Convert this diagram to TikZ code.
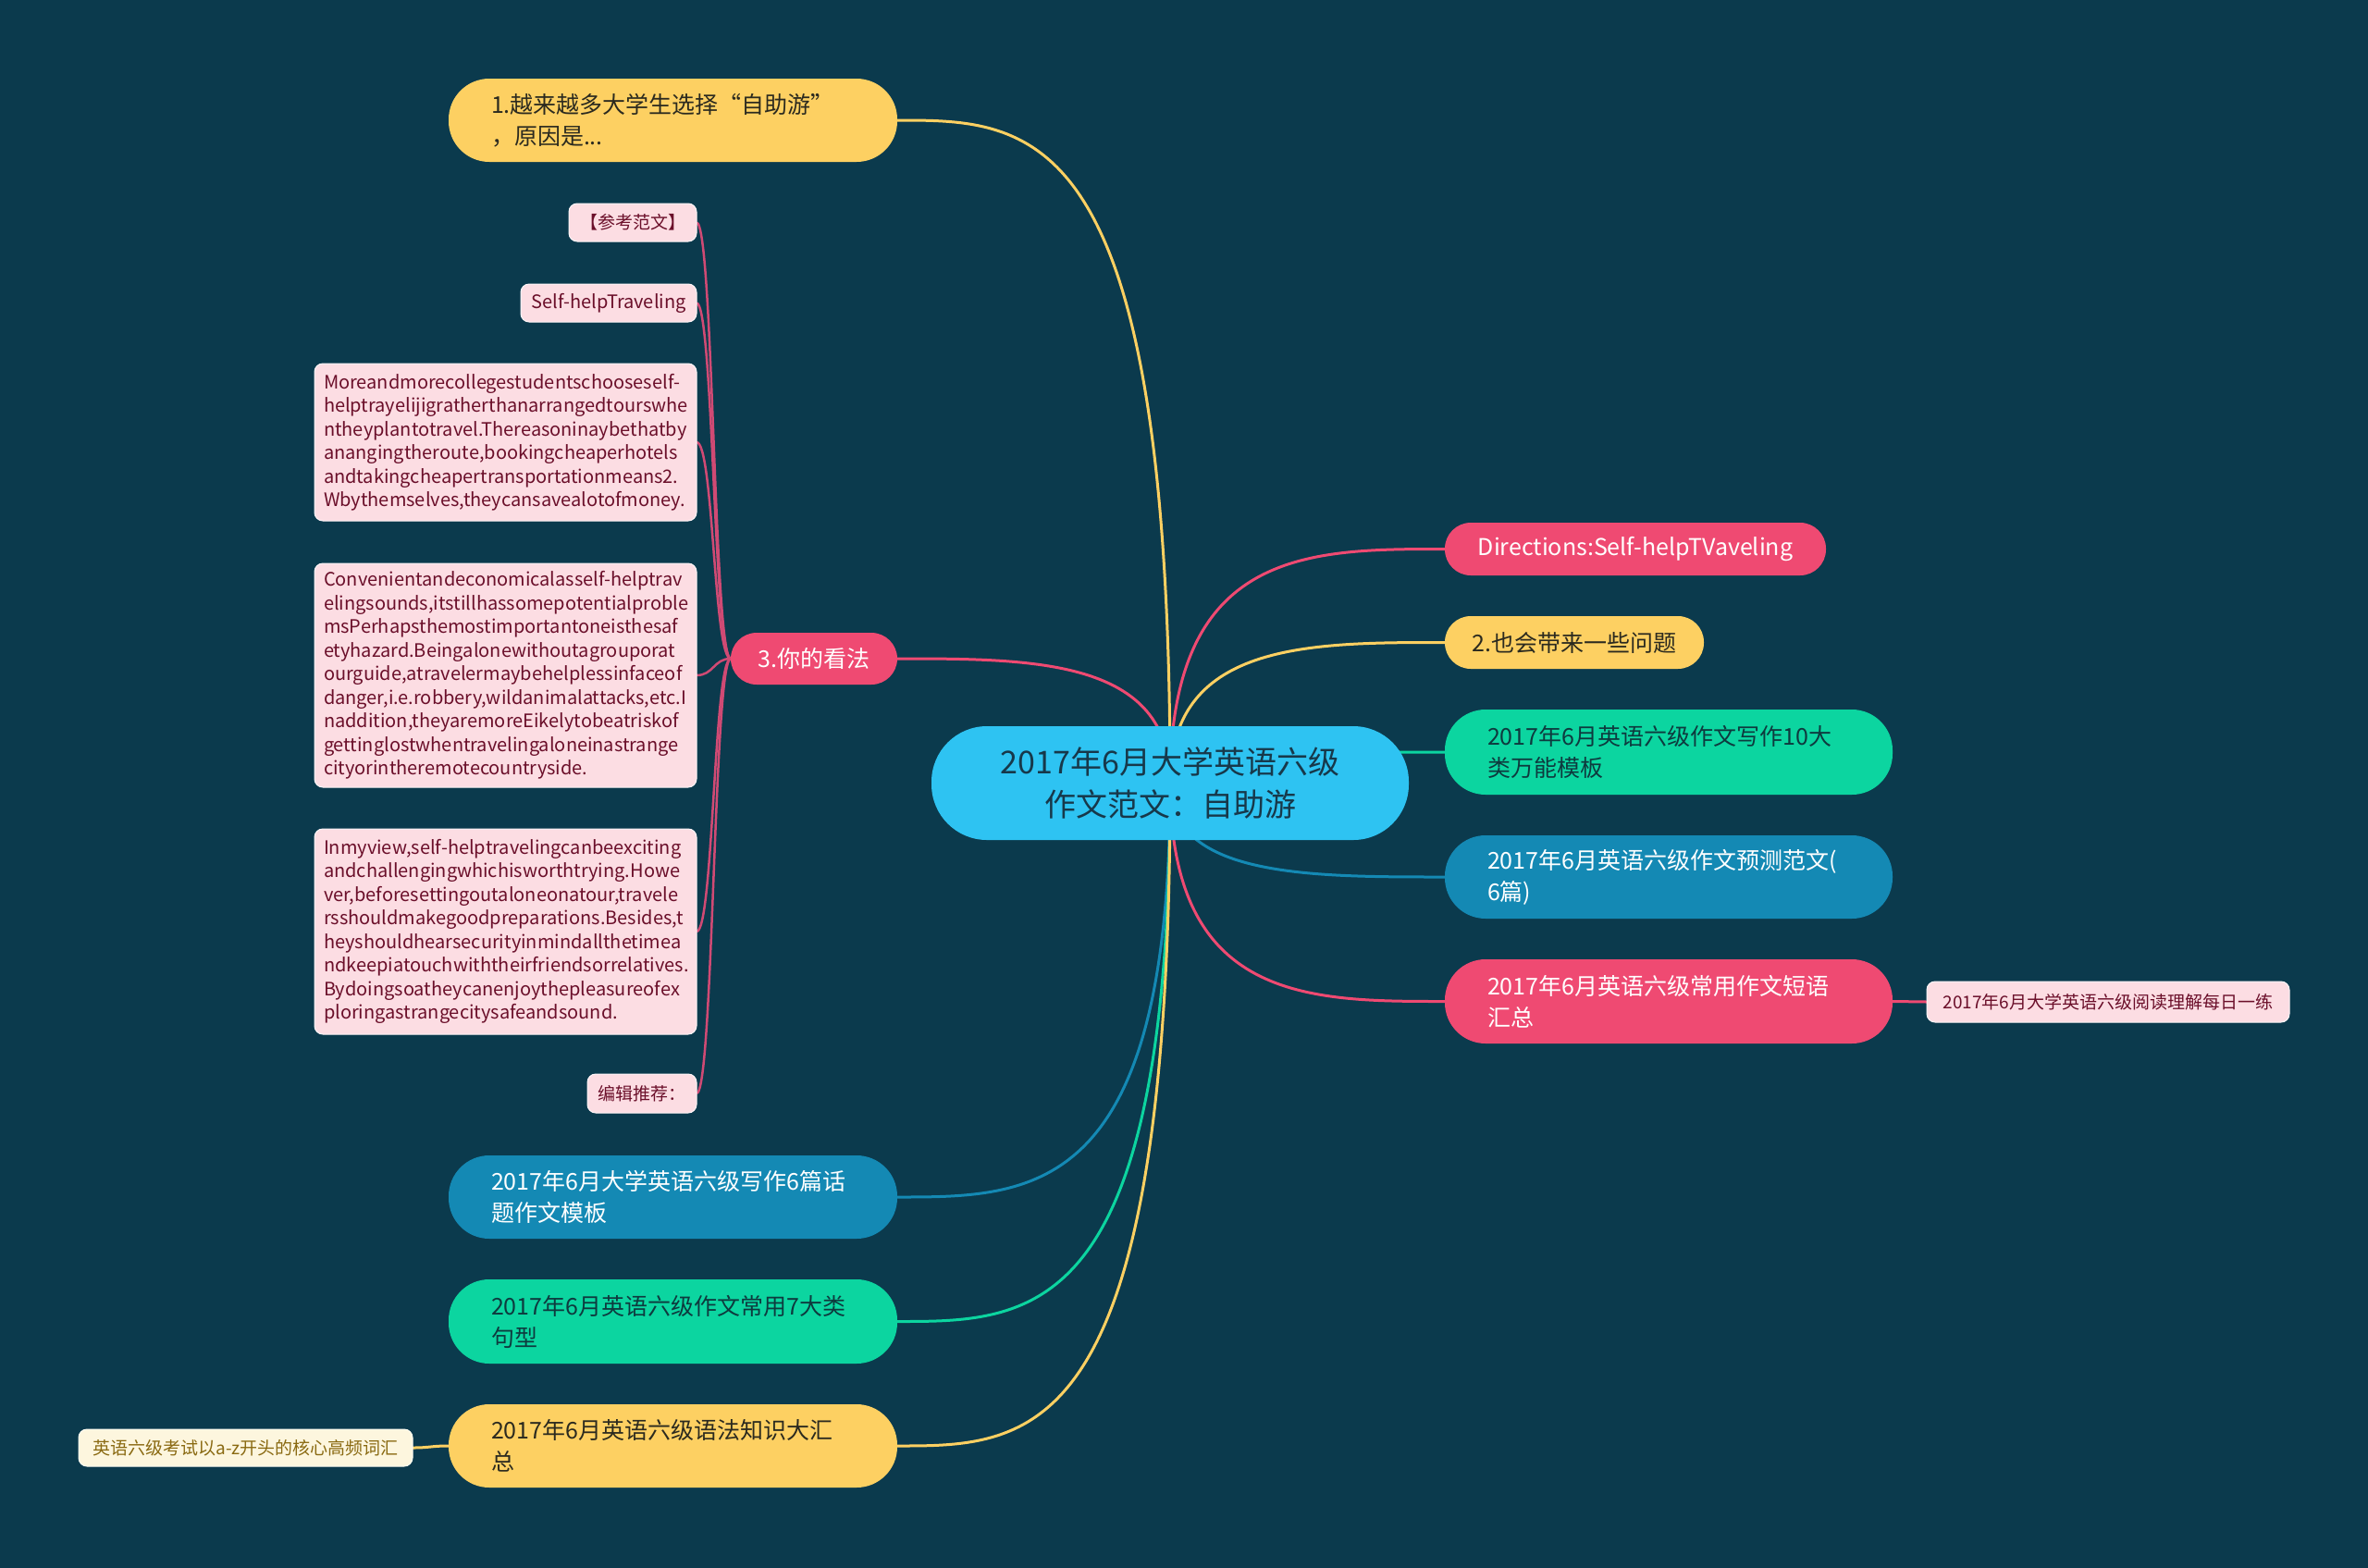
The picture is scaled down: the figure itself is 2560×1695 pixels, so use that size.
\documentclass[tikz,border=0pt]{standalone}
\usepackage{fontspec}
\setmainfont{Noto Sans CJK SC}
\usetikzlibrary{calc}
\pgfdeclarelayer{bg}
\pgfsetlayers{bg,main}
\definecolor{bgc}{HTML}{0B3A4D}
\definecolor{cyel}{HTML}{FDD062}
\definecolor{tyel}{HTML}{2B2A1F}
\definecolor{cpink}{HTML}{EF4A72}
\definecolor{cblue}{HTML}{1489B4}
\definecolor{cgreen}{HTML}{0CD5A0}
\definecolor{tgreen}{HTML}{0E3A3E}
\definecolor{ccenter}{HTML}{2EC3F2}
\definecolor{tcenter}{HTML}{17384A}
\definecolor{clight}{HTML}{FCDDE3}
\definecolor{tlight}{HTML}{6B0F2A}
\definecolor{ccream}{HTML}{FDF6DE}
\definecolor{tcream}{HTML}{8A6A12}
\definecolor{csub}{HTML}{D04A74}
\newcommand{\mmbranch}[3]{\draw[#1] (#2) .. controls (#2 |- #3) and ($(#3)!0.5!(#2 |- #3)$) .. (#3);}
\newcommand{\mmsub}[3]{\draw[#1] (#2) .. controls ($(#2)!0.5!(#3 |- #2)$) and ($(#3)!0.5!(#2 |- #3)$) .. (#3);}
\begin{document}
\begin{tikzpicture}[x=1pt,y=-1pt,
  base/.style={inner sep=0pt,outer sep=0pt},
  pill/.style={base,rounded corners=#1},
  fmain/.style={font=\fontsize{25pt}{34pt}\selectfont},
  fsmall/.style={font=\fontsize{19pt}{25.5pt}\selectfont},
  flat/.style={font=\fontsize{20pt}{25.5pt}\selectfont},
  yel/.style={fill=cyel,text=tyel},
  pnk/.style={fill=cpink,text=white},
  blu/.style={fill=cblue,text=white},
  grn/.style={fill=cgreen,text=tgreen},
  lite/.style={base,rounded corners=9pt,fill=clight,text=tlight,fsmall,draw=white!70!clight,line width=1pt},
  crm/.style={base,rounded corners=9pt,fill=ccream,text=tcream,fsmall,draw=white!60!ccream,line width=1pt},
  two/.style={pill=44pt,fmain,minimum width=485pt,minimum height=90pt,text width=393pt,align=left},
  one/.style={pill=28pt,fmain,minimum height=57pt,align=center},
  br/.style={line width=3pt},
  sb/.style={line width=2.5pt,color=csub}
]
\useasboundingbox (0,0) rectangle (2560,1695);
\begin{pgfonlayer}{bg}
\fill[bgc] (0,0) rectangle (2560,1695);
\end{pgfonlayer}

% center
\node[pill=60pt,fill=ccenter,text=tcenter,font=\fontsize{34pt}{46pt}\selectfont,minimum width=516pt,minimum height=123pt,align=center] (c) at (1265,846.5) {2017年6月大学英语六级\\作文范文：自助游};

% left side
\node[two,yel] (n1) at (727.5,130) {1.越来越多大学生选择“自助游”\\，原因是...};
\node[one,pnk,minimum width=180pt,minimum height=56pt] (n3) at (880,712) {3.你的看法};
\node[two,blu] (b6) at (727.5,1294) {2017年6月大学英语六级写作6篇话\\题作文模板};
\node[two,grn,minimum height=91pt] (g7) at (727.5,1428.5) {2017年6月英语六级作文常用7大类\\句型};
\node[two,yel] (gram) at (727.5,1563) {2017年6月英语六级语法知识大汇\\总};
\node[crm,minimum width=361pt,minimum height=40pt] (cream) at (265.5,1565) {英语六级考试以a-z开头的核心高频词汇};

% children of n3
\node[lite,minimum width=138pt,minimum height=41pt] (ref) at (684,240.5) {【参考范文】};
\node[lite,flat,minimum width=190pt,minimum height=41pt] (sht) at (658,327.5) {Self-helpTraveling};
\node[lite,flat,minimum width=413pt,minimum height=170pt,text width=393pt,align=left] (t1) at (546.5,478) {Moreandmorecollegestudentschooseself-\\helptrayelijigratherthanarrangedtourswhe\\ntheyplantotravel.Thereasoninaybethatby\\anangingtheroute,bookingcheaperhotels\\andtakingcheapertransportationmeans2.\\Wbythemselves,theycansavealotofmoney.};
\node[lite,flat,minimum width=413pt,minimum height=242pt,text width=393pt,align=left] (t2) at (546.5,730) {Convenientandeconomicalasself-helptrav\\elingsounds,itstillhassomepotentialproble\\msPerhapsthemostimportantoneisthesaf\\etyhazard.Beingalonewithoutagrouporat\\ourguide,atravelermaybehelplessinfaceof\\danger,i.e.robbery,wildanimalattacks,etc.I\\naddition,theyaremoreEikelytobeatriskof\\gettinglostwhentravelingaloneinastrange\\cityorintheremotecountryside.};
\node[lite,flat,minimum width=413pt,minimum height=222pt,text width=393pt,align=left] (t3) at (546.5,1007) {Inmyview,self-helptravelingcanbeexciting\\andchallengingwhichisworthtrying.Howe\\ver,beforesettingoutaloneonatour,travele\\rsshouldmakegoodpreparations.Besides,t\\heyshouldhearsecurityinmindallthetimea\\ndkeepiatouchwiththeirfriendsorrelatives.\\Bydoingsoatheycanenjoythepleasureofex\\ploringastrangecitysafeandsound.};
\node[lite,minimum width=118pt,minimum height=42pt] (rec) at (694,1182) {编辑推荐：};

% right side
\node[one,pnk,minimum width=412pt] (dir) at (1768,593.5) {Directions:Self-helpTVaveling};
\node[one,yel,minimum width=280pt] (n2) at (1702,694.5) {2.也会带来一些问题};
\node[two,grn,minimum width=484pt,minimum height=92pt,text width=392pt] (g10) at (1804,813) {2017年6月英语六级作文写作10大\\类万能模板};
\node[two,blu,minimum width=484pt,text width=392pt] (b10) at (1804,948) {2017年6月英语六级作文预测范文(\\6篇)};
\node[two,pnk,minimum width=484pt,minimum height=91pt,text width=392pt] (p10) at (1804,1082.5) {2017年6月英语六级常用作文短语\\汇总};
\node[lite,minimum width=392pt,minimum height=44pt] (read) at (2279,1083) {2017年6月大学英语六级阅读理解每日一练};

\begin{pgfonlayer}{bg}
\mmbranch{br,cyel}{c.center}{n1.east}
\mmbranch{br,cpink}{c.center}{n3.east}
\mmbranch{br,cblue}{c.center}{b6.east}
\mmbranch{br,cgreen}{c.center}{g7.east}
\mmbranch{br,cyel}{c.center}{gram.east}
\mmbranch{br,cpink}{c.center}{dir.west}
\mmbranch{br,cyel}{c.center}{n2.west}
\mmbranch{br,cgreen}{c.center}{g10.west}
\mmbranch{br,cblue}{c.center}{b10.west}
\mmbranch{br,cpink}{c.center}{p10.west}
\mmsub{sb}{n3.west}{ref.east}
\mmsub{sb}{n3.west}{sht.east}
\mmsub{sb}{n3.west}{t1.east}
\mmsub{sb}{n3.west}{t2.east}
\mmsub{sb}{n3.west}{t3.east}
\mmsub{sb}{n3.west}{rec.east}
\mmsub{br,cyel}{gram.west}{cream.east}
\mmsub{br,cpink}{p10.east}{read.west}
\end{pgfonlayer}
\end{tikzpicture}
\end{document}
